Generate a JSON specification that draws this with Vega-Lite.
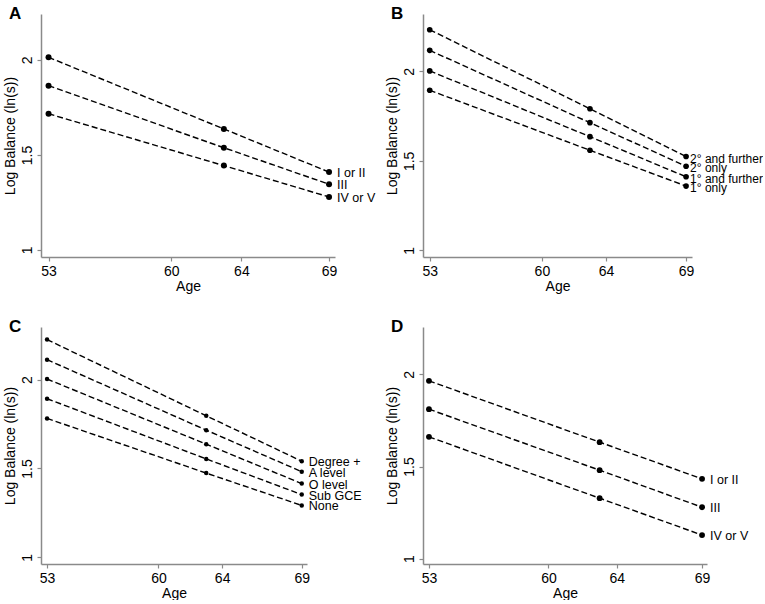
{
  "$schema": "https://vega.github.io/schema/vega-lite/v6.json",
  "padding": {"left": 3, "top": 5, "right": 0, "bottom": 0},
  "bounds": "flush",
  "columns": 2,
  "spacing": {"row": 70, "column": 88},
  "data": {
    "values": [
      {"panel": "A", "group": "I or II", "age": 53, "balance": 2.014},
      {"panel": "A", "group": "I or II", "age": 63, "balance": 1.637},
      {"panel": "A", "group": "I or II", "age": 69, "balance": 1.41},
      {"panel": "A", "group": "III", "age": 53, "balance": 1.865},
      {"panel": "A", "group": "III", "age": 63, "balance": 1.538},
      {"panel": "A", "group": "III", "age": 69, "balance": 1.346},
      {"panel": "A", "group": "IV or V", "age": 53, "balance": 1.717},
      {"panel": "A", "group": "IV or V", "age": 63, "balance": 1.444},
      {"panel": "A", "group": "IV or V", "age": 69, "balance": 1.279},
      {"panel": "B", "group": "2° and further", "age": 53, "balance": 2.232},
      {"panel": "B", "group": "2° and further", "age": 63, "balance": 1.791},
      {"panel": "B", "group": "2° and further", "age": 69, "balance": 1.524},
      {"panel": "B", "group": "2° only", "age": 53, "balance": 2.117},
      {"panel": "B", "group": "2° only", "age": 63, "balance": 1.713},
      {"panel": "B", "group": "2° only", "age": 69, "balance": 1.47},
      {"panel": "B", "group": "1° and further", "age": 53, "balance": 2.002},
      {"panel": "B", "group": "1° and further", "age": 63, "balance": 1.635},
      {"panel": "B", "group": "1° and further", "age": 69, "balance": 1.411},
      {"panel": "B", "group": "1° only", "age": 53, "balance": 1.894},
      {"panel": "B", "group": "1° only", "age": 63, "balance": 1.559},
      {"panel": "B", "group": "1° only", "age": 69, "balance": 1.359},
      {"panel": "C", "group": "Degree +", "age": 53, "balance": 2.226},
      {"panel": "C", "group": "Degree +", "age": 63, "balance": 1.797},
      {"panel": "C", "group": "Degree +", "age": 69, "balance": 1.541},
      {"panel": "C", "group": "A level", "age": 53, "balance": 2.113},
      {"panel": "C", "group": "A level", "age": 63, "balance": 1.716},
      {"panel": "C", "group": "A level", "age": 69, "balance": 1.482},
      {"panel": "C", "group": "O level", "age": 53, "balance": 2.004},
      {"panel": "C", "group": "O level", "age": 63, "balance": 1.637},
      {"panel": "C", "group": "O level", "age": 69, "balance": 1.415},
      {"panel": "C", "group": "Sub GCE", "age": 53, "balance": 1.893},
      {"panel": "C", "group": "Sub GCE", "age": 63, "balance": 1.554},
      {"panel": "C", "group": "Sub GCE", "age": 69, "balance": 1.353},
      {"panel": "C", "group": "None", "age": 53, "balance": 1.782},
      {"panel": "C", "group": "None", "age": 63, "balance": 1.474},
      {"panel": "C", "group": "None", "age": 69, "balance": 1.292},
      {"panel": "D", "group": "I or II", "age": 53, "balance": 1.965},
      {"panel": "D", "group": "I or II", "age": 63, "balance": 1.632},
      {"panel": "D", "group": "I or II", "age": 69, "balance": 1.433},
      {"panel": "D", "group": "III", "age": 53, "balance": 1.811},
      {"panel": "D", "group": "III", "age": 63, "balance": 1.48},
      {"panel": "D", "group": "III", "age": 69, "balance": 1.279},
      {"panel": "D", "group": "IV or V", "age": 53, "balance": 1.661},
      {"panel": "D", "group": "IV or V", "age": 63, "balance": 1.328},
      {"panel": "D", "group": "IV or V", "age": 69, "balance": 1.128}
    ]
  },
  "concat": [
    {
      "width": 294,
      "height": 243,
      "title": {"text": "A", "dx": -32, "dy": 13},
      "transform": [{"filter": "datum.panel === 'A'"}],
      "encoding": {
        "x": {"field": "age", "type": "quantitative", "scale": {"domain": [52.57, 69.34], "nice": false, "zero": false}, "axis": {"values": [53, 60, 64, 69], "title": "Age"}},
        "y": {"field": "balance", "type": "quantitative", "scale": {"domain": [0.963, 2.242], "nice": false, "zero": false}, "axis": {"values": [1, 1.5, 2], "format": "~g", "labelAngle": -90, "title": "Log Balance (ln(s))"}}
      },
      "layer": [
        {"mark": {"type": "line", "color": "black", "strokeWidth": 1.4, "strokeDash": [6, 3]}, "encoding": {"detail": {"field": "group"}}},
        {"mark": {"type": "circle", "color": "black", "opacity": 1, "size": 36}},
        {"transform": [{"filter": "datum.age === 69"}], "mark": {"type": "text", "align": "left", "baseline": "middle", "dx": 8, "dy": 1, "fontSize": 12.5, "color": "black"}, "encoding": {"text": {"field": "group"}}}
      ]
    },
    {
      "width": 269,
      "height": 243,
      "title": {"text": "B", "dx": -32, "dy": 13},
      "transform": [{"filter": "datum.panel === 'B'"}],
      "encoding": {
        "x": {"field": "age", "type": "quantitative", "scale": {"domain": [52.58, 69.37], "nice": false, "zero": false}, "axis": {"values": [53, 60, 64, 69], "title": "Age"}},
        "y": {"field": "balance", "type": "quantitative", "scale": {"domain": [0.963, 2.32], "nice": false, "zero": false}, "axis": {"values": [1, 1.5, 2], "format": "~g", "labelAngle": -90, "title": "Log Balance (ln(s))"}}
      },
      "layer": [
        {"mark": {"type": "line", "color": "black", "strokeWidth": 1.4, "strokeDash": [6, 3]}, "encoding": {"detail": {"field": "group"}}},
        {"mark": {"type": "circle", "color": "black", "opacity": 1, "size": 32}},
        {"transform": [{"filter": "datum.age === 69"}], "mark": {"type": "text", "align": "left", "baseline": "middle", "dx": 4, "dy": 2, "fontSize": 12, "color": "black"}, "encoding": {"text": {"field": "group"}}}
      ]
    },
    {
      "width": 266,
      "height": 237,
      "title": {"text": "C", "dx": -32, "dy": 13},
      "transform": [{"filter": "datum.panel === 'C'"}],
      "encoding": {
        "x": {"field": "age", "type": "quantitative", "scale": {"domain": [52.62, 69.33], "nice": false, "zero": false}, "axis": {"values": [53, 60, 64, 69], "title": "Age"}},
        "y": {"field": "balance", "type": "quantitative", "scale": {"domain": [0.962, 2.297], "nice": false, "zero": false}, "axis": {"values": [1, 1.5, 2], "format": "~g", "labelAngle": -90, "title": "Log Balance (ln(s))"}}
      },
      "layer": [
        {"mark": {"type": "line", "color": "black", "strokeWidth": 1.4, "strokeDash": [6, 3]}, "encoding": {"detail": {"field": "group"}}},
        {"mark": {"type": "circle", "color": "black", "opacity": 1, "size": 20}},
        {"transform": [{"filter": "datum.age === 69"}], "mark": {"type": "text", "align": "left", "baseline": "middle", "dx": 7, "dy": 1, "fontSize": 12.5, "color": "black"}, "encoding": {"text": {"field": "group"}}}
      ]
    },
    {
      "width": 284,
      "height": 237,
      "title": {"text": "D", "dx": -32, "dy": 13},
      "transform": [{"filter": "datum.panel === 'D'"}],
      "encoding": {
        "x": {"field": "age", "type": "quantitative", "scale": {"domain": [52.65, 69.29], "nice": false, "zero": false}, "axis": {"values": [53, 60, 64, 69], "title": "Age"}},
        "y": {"field": "balance", "type": "quantitative", "scale": {"domain": [0.971, 2.257], "nice": false, "zero": false}, "axis": {"values": [1, 1.5, 2], "format": "~g", "labelAngle": -90, "title": "Log Balance (ln(s))"}}
      },
      "layer": [
        {"mark": {"type": "line", "color": "black", "strokeWidth": 1.4, "strokeDash": [6, 3]}, "encoding": {"detail": {"field": "group"}}},
        {"mark": {"type": "circle", "color": "black", "opacity": 1, "size": 34}},
        {"transform": [{"filter": "datum.age === 69"}], "mark": {"type": "text", "align": "left", "baseline": "middle", "dx": 8, "dy": 1, "fontSize": 12.5, "color": "black"}, "encoding": {"text": {"field": "group"}}}
      ]
    }
  ],
  "config": {
    "font": "Liberation Sans",
    "view": {"stroke": null},
    "axis": {
      "grid": false,
      "domainColor": "#8a8a8a",
      "domainWidth": 1.5,
      "tickColor": "#8a8a8a",
      "tickWidth": 1.2,
      "tickSize": 4,
      "labelColor": "black",
      "labelFontSize": 14,
      "labelPadding": 3,
      "titleFontSize": 14,
      "titleFontWeight": "normal",
      "titleColor": "black"
    },
    "axisX": {"titlePadding": 1},
    "axisY": {"titlePadding": 3},
    "title": {"anchor": "start", "frame": "group", "fontSize": 17, "fontWeight": "bold", "color": "black", "baseline": "bottom", "offset": 0}
  }
}
